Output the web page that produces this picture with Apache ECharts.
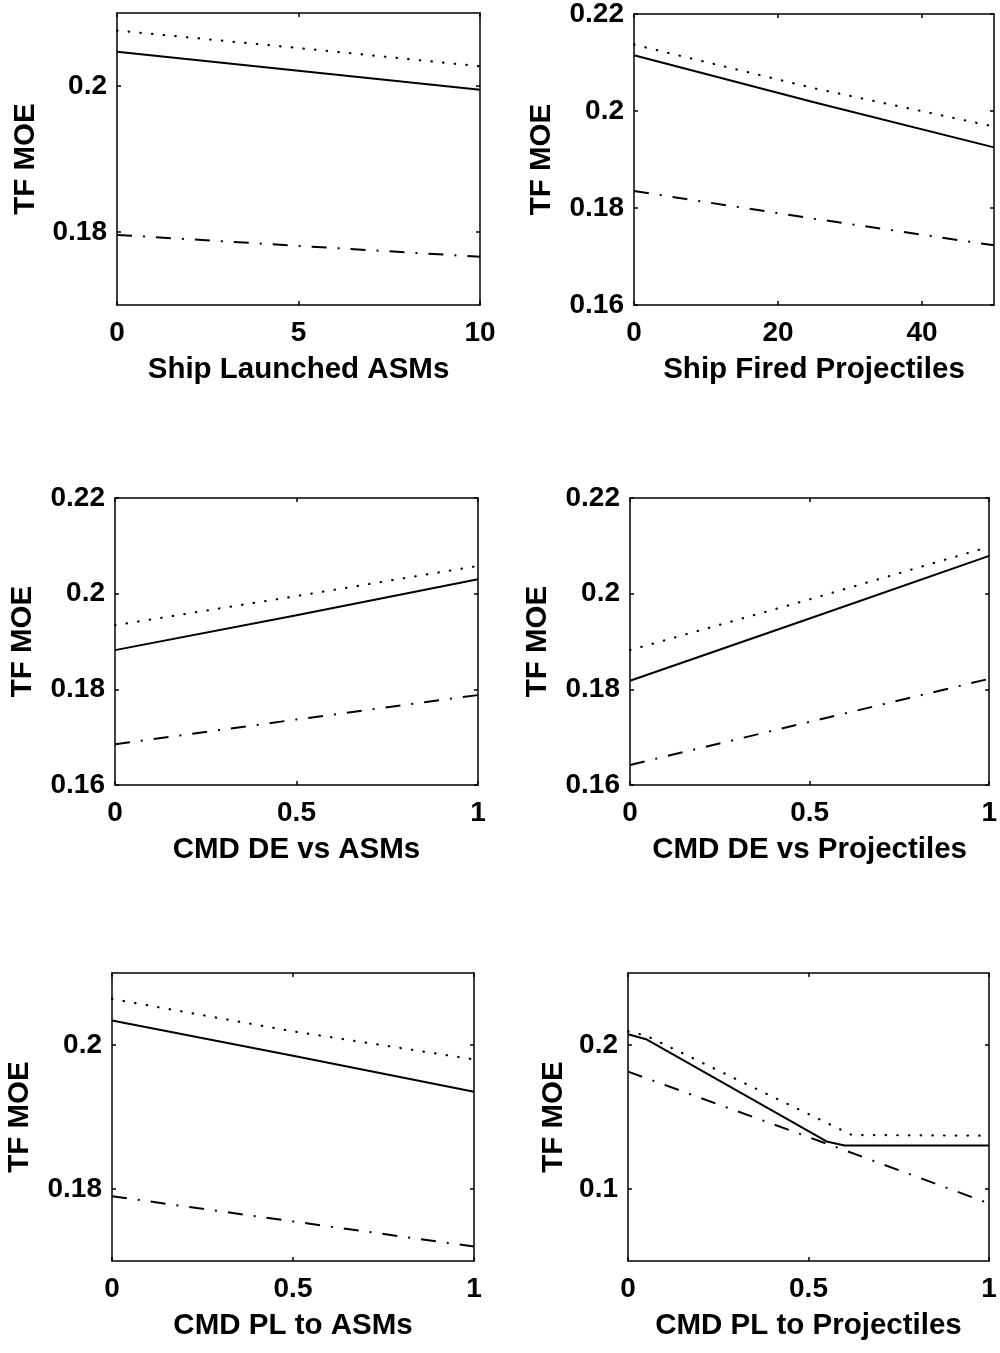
<!DOCTYPE html>
<html>
<head>
<meta charset="utf-8">
<script src="https://cdn.jsdelivr.net/npm/echarts@6/dist/echarts.min.js"></script>
<style>
  html, body { margin: 0; padding: 0; background: #fff; }
  #main { width: 1000px; height: 1353px; }
</style>
</head>
<body>
<div id="main"></div>
<script>
// panel 1: Ship Launched ASMs
var shipAsmX = [0, 5, 10];
var shipAsmSolid = [0.2047, 0.2021, 0.1995];
var shipAsmDotted = [0.2076, 0.2052, 0.2027];
var shipAsmDashDot = [0.1796, 0.1781, 0.1766];

// panel 2: Ship Fired Projectiles
var shipProjX = [0, 25, 50];
var shipProjSolid = [0.2115, 0.2018, 0.1925];
var shipProjDotted = [0.2137, 0.2047, 0.1968];
var shipProjDashDot = [0.1835, 0.1778, 0.1723];

// panel 3: CMD DE vs ASMs
var deAsmX = [0, 0.5, 1];
var deAsmSolid = [0.1882, 0.1955, 0.2030];
var deAsmDotted = [0.1934, 0.1995, 0.2058];
var deAsmDashDot = [0.1685, 0.1737, 0.1788];

// panel 4: CMD DE vs Projectiles
var deProjX = [0, 0.5, 1];
var deProjSolid = [0.1818, 0.1948, 0.2079];
var deProjDotted = [0.1882, 0.1988, 0.2098];
var deProjDashDot = [0.1642, 0.1732, 0.1822];

// panel 5: CMD PL to ASMs
var plAsmX = [0, 0.5, 1];
var plAsmSolid = [0.2034, 0.1985, 0.1935];
var plAsmDotted = [0.2064, 0.2019, 0.1980];
var plAsmDashDot = [0.1790, 0.1755, 0.1720];

// panel 6: CMD PL to Projectiles (knee near 0.6)
var plProjSolidX = [0, 0.05, 0.55, 0.6, 1];
var plProjSolid = [0.2075, 0.2040, 0.1330, 0.1302, 0.1302];
var plProjDottedX = [0, 0.05, 0.62, 1];
var plProjDotted = [0.2095, 0.2065, 0.1375, 0.1370];
var plProjDashDotX = [0, 0.57, 1];
var plProjDashDot = [0.1815, 0.1297, 0.0900];

// tick labels
var xTicks1 = [0, 5, 10];
var xTicks2 = [0, 20, 40];
var xTicksUnit = [0, 0.5, 1];
var yTicksNarrow = [0.18, 0.2];
var yTicksWide = [0.16, 0.18, 0.2, 0.22];
var yTicksPl = [0.1, 0.2];

var xNames = ['Ship Launched ASMs', 'Ship Fired Projectiles', 'CMD DE vs ASMs',
  'CMD DE vs Projectiles', 'CMD PL to ASMs', 'CMD PL to Projectiles'];

function pairs(xs, ys) {
  return xs.map(function (x, i) { return [x, ys[i]]; });
}

var panels = [
  { grid: { left: 117, top: 13, width: 363, height: 292 }, x: [0, 10], y: [0.17, 0.21], xt: xTicks1, yt: yTicksNarrow, gap: 76,
    lines: [pairs(shipAsmX, shipAsmSolid), pairs(shipAsmX, shipAsmDotted), pairs(shipAsmX, shipAsmDashDot)] },
  { grid: { left: 634, top: 13, width: 360, height: 292 }, x: [0, 50], y: [0.16, 0.22], xt: xTicks2, yt: yTicksWide, gap: 77,
    lines: [pairs(shipProjX, shipProjSolid), pairs(shipProjX, shipProjDotted), pairs(shipProjX, shipProjDashDot)] },
  { grid: { left: 115, top: 498, width: 363, height: 287 }, x: [0, 1], y: [0.16, 0.22], xt: xTicksUnit, yt: yTicksWide, gap: 77,
    lines: [pairs(deAsmX, deAsmSolid), pairs(deAsmX, deAsmDotted), pairs(deAsmX, deAsmDashDot)] },
  { grid: { left: 630, top: 498, width: 363, height: 287 }, x: [0, 1], y: [0.16, 0.22], xt: xTicksUnit, yt: yTicksWide, gap: 77,
    lines: [pairs(deProjX, deProjSolid), pairs(deProjX, deProjDotted), pairs(deProjX, deProjDashDot)] },
  { grid: { left: 112, top: 973, width: 362, height: 288 }, x: [0, 1], y: [0.17, 0.21], xt: xTicksUnit, yt: yTicksNarrow, gap: 77,
    lines: [pairs(plAsmX, plAsmSolid), pairs(plAsmX, plAsmDotted), pairs(plAsmX, plAsmDashDot)] },
  { grid: { left: 628, top: 973, width: 361, height: 288 }, x: [0, 1], y: [0.05, 0.25], xt: xTicksUnit, yt: yTicksPl, gap: 59,
    lines: [pairs(plProjSolidX, plProjSolid), pairs(plProjDottedX, plProjDotted), pairs(plProjDashDotX, plProjDashDot)] }
];

var font = { fontFamily: 'Liberation Sans', fontWeight: 'bold', color: '#000' };
var axisLine = { show: true, onZero: false, lineStyle: { color: '#000', width: 1.5 } };
var tickStyle = { color: '#000', width: 1.5 };
var lineStyles = [
  { color: '#000', width: 2, type: 'solid' },
  { color: '#000', width: 2.2, type: [0.5, 11.2], cap: 'round' },
  { color: '#000', width: 2, type: [15, 11, 2, 11] }
];

var grids = [], xAxes = [], yAxes = [], series = [];
panels.forEach(function (p, i) {
  grids.push(p.grid);
  // bottom axis with labels
  xAxes.push({
    type: 'value', gridIndex: i, position: 'bottom', min: p.x[0], max: p.x[1],
    name: xNames[i], nameLocation: 'middle', nameGap: 50,
    nameTextStyle: Object.assign({ fontSize: 29.5 }, font),
    axisLine: axisLine, splitLine: { show: false },
    axisTick: { inside: true, length: 4, customValues: p.xt, lineStyle: tickStyle },
    axisLabel: Object.assign({ fontSize: 28, margin: 14, customValues: p.xt }, font)
  });
  // top mirror axis
  xAxes.push({
    type: 'value', gridIndex: i, position: 'top', min: p.x[0], max: p.x[1],
    axisLine: axisLine, splitLine: { show: false }, axisLabel: { show: false },
    axisTick: { inside: true, length: 4, customValues: p.xt, lineStyle: tickStyle }
  });
  yAxes.push({
    type: 'value', gridIndex: i, position: 'left', min: p.y[0], max: p.y[1],
    name: 'TF MOE', nameLocation: 'middle', nameGap: p.gap, nameRotate: 90,
    nameTextStyle: Object.assign({ fontSize: 29.5 }, font),
    axisLine: axisLine, splitLine: { show: false },
    axisTick: { inside: true, length: 4, customValues: p.yt, lineStyle: tickStyle },
    axisLabel: Object.assign({ fontSize: 28, margin: 10, customValues: p.yt }, font)
  });
  yAxes.push({
    type: 'value', gridIndex: i, position: 'right', min: p.y[0], max: p.y[1],
    axisLine: axisLine, splitLine: { show: false }, axisLabel: { show: false },
    axisTick: { inside: true, length: 4, customValues: p.yt, lineStyle: tickStyle }
  });
  p.lines.forEach(function (d, k) {
    series.push({
      type: 'line', xAxisIndex: i * 2, yAxisIndex: i * 2, data: d,
      showSymbol: false, symbol: 'none', lineStyle: lineStyles[k], silent: true
    });
  });
});

var chart = echarts.init(document.getElementById('main'), null, { renderer: 'canvas' });
chart.setOption({
  animation: false,
  backgroundColor: '#fff',
  grid: grids,
  xAxis: xAxes,
  yAxis: yAxes,
  series: series
});
</script>
</body>
</html>
